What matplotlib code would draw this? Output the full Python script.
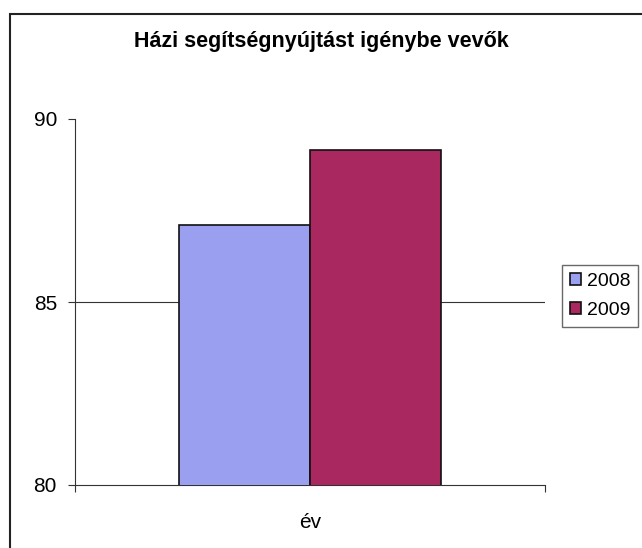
import matplotlib.pyplot as plt
from matplotlib.patches import Rectangle

plt.rcParams['font.family'] = ['Liberation Sans', 'DejaVu Sans']

years = ['2008', '2009']
values = [87.1, 89.15]
colors = ['#9b9ff0', '#a8285f']
category = 'év'
title = 'Házi segítségnyújtást igénybe vevők'

fig = plt.figure(figsize=(6.42, 5.48), dpi=100)

# outer chart frame (cropped on right and bottom in the scan)
fig.patches.append(Rectangle((10 / 642, -0.05), 1.2, 1 - 14 / 548 + 0.05,
                             transform=fig.transFigure, fill=False,
                             edgecolor='#222222', linewidth=1.5))

ax = fig.add_axes([75 / 642, 1 - 485 / 548, 470 / 642, 366 / 548])

w = 0.278
offsets = [-w / 2, w / 2]
for yr, v, c, off in zip(years, values, colors, offsets):
    ax.bar(off, v, width=w, color=c, edgecolor='#111111', linewidth=1.2,
           label=yr, zorder=3)

ax.set_ylim(80, 90)
ax.set_xlim(-0.5, 0.5)
ax.set_yticks([80, 85, 90])
ax.axhline(85, color='#333333', linewidth=0.8, zorder=1)
ax.set_xticks([-0.5, 0.5])
ax.set_xticklabels([])
ax.tick_params(axis='y', labelsize=15, length=5, color='#333333', pad=8)
ax.tick_params(axis='x', length=5, color='#333333')
for s in ['top', 'right']:
    ax.spines[s].set_visible(False)
for s in ['left', 'bottom']:
    ax.spines[s].set_color('#333333')
ax.set_xlabel(category, fontsize=15, labelpad=12)

fig.text(0.5, 1 - 42 / 548, title, ha='center', va='center',
         fontsize=15.5, fontweight='bold')

fig.legend(loc='center left', bbox_to_anchor=(558 / 642, 1 - 296 / 548),
           fontsize=14, frameon=True, fancybox=False, edgecolor='#444444',
           handlelength=0.6, handleheight=0.6, handletextpad=0.3,
           borderpad=0.4, borderaxespad=0.2, labelspacing=0.6)

fig.savefig('out.png', dpi=100)
